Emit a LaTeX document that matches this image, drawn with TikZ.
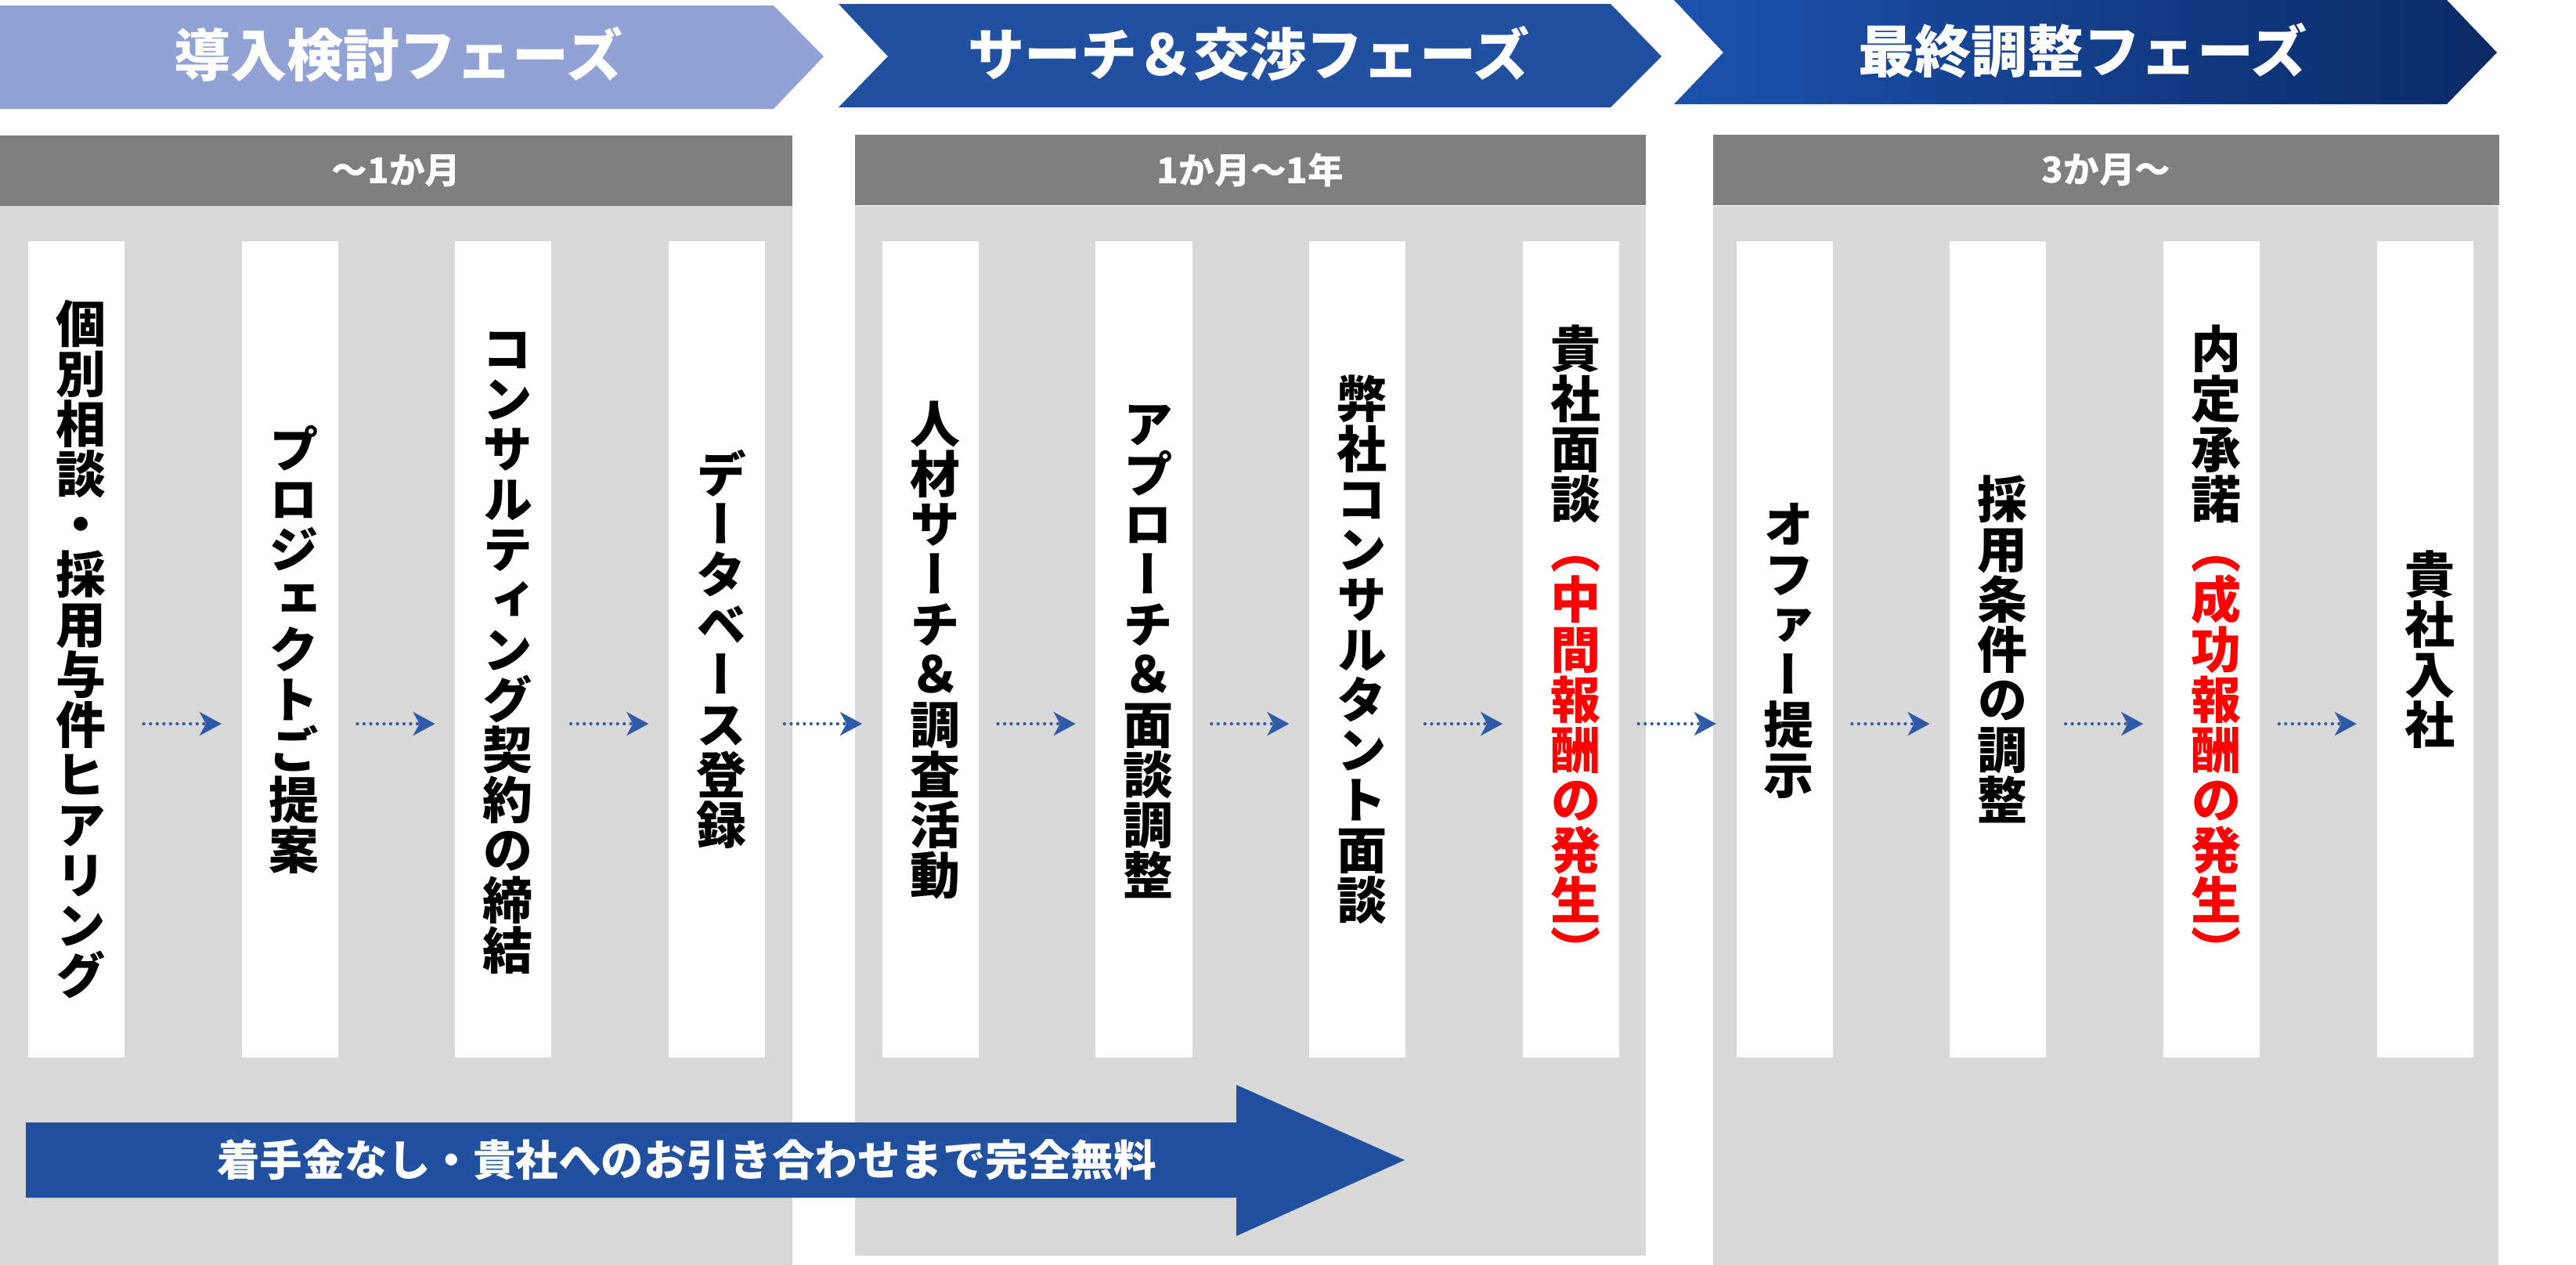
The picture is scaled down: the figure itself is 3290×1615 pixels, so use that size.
\documentclass[tikz,border=0pt]{standalone}
\usepackage{fontspec}
\usepackage{graphicx}
\usepackage{tikz}
\usetikzlibrary{arrows.meta}

\newfontfamily\jpfont{Noto Sans CJK JP}
\newfontfamily\tatefont{Noto Sans CJK JP}[RawFeature={vertical;+vert}]

\definecolor{phaseA}{HTML}{91A2D5}
\definecolor{phaseB}{HTML}{2150A0}
\definecolor{phaseCl}{HTML}{1C52AD}
\definecolor{phaseCr}{HTML}{0A2A66}
\definecolor{panelgrey}{HTML}{D9D9D9}
\definecolor{bargrey}{HTML}{7F7F7F}
\definecolor{flowblue}{HTML}{2F5AA8}

\tikzset{
  phasetitle/.style={text=white, inner sep=0pt, font=\jpfont\bfseries\fontsize{20.5}{20.5}\selectfont},
  periodbar/.style={fill=bargrey, text=white, inner sep=0pt, minimum height=0.9cm, font=\jpfont\bfseries\fontsize{13}{13}\selectfont},
  stepbox/.style={fill=white, inner sep=0pt, minimum width=1.23cm, minimum height=10.42cm, font=\tatefont\bfseries\fontsize{18.2}{18.2}\selectfont},
  flowarrow/.style={flowblue, line width=0.042cm, line cap=round, dash pattern=on 0pt off 0.085cm,
    -{Stealth[length=0.28cm, width=0.3cm, inset=0.08cm]}, shorten <=0.24cm, shorten >=0.25cm},
  freetext/.style={text=white, inner sep=0pt, font=\jpfont\bfseries\fontsize{15.5}{15.5}\selectfont}
}
\newcommand{\tate}[1]{\hspace*{0.6cm}\rotatebox{-90}{#1}}

\begin{document}
\begin{tikzpicture}[x=0.01cm, y=-0.01cm]
  \useasboundingbox (0,0) rectangle (3290,1615);
  % phase arrows
  \fill[phaseA] (0,7) -- (988,7) -- (1052,72) -- (988,139) -- (0,139) -- cycle;
  \node[phasetitle] (ph1) at (509,70) {導入検討フェーズ};
  \fill[phaseB] (1071,5) -- (2057,5) -- (2122,72) -- (2057,137) -- (1071,137) -- (1134,72) -- cycle;
  \node[phasetitle] (ph2) at (1595,68) {サーチ＆交渉フェーズ};
  \shade[left color=phaseCl, right color=phaseCr] (2138,0) -- (3125,0) -- (3189,67) -- (3125,133) -- (2138,133) -- (2201,67) -- cycle;
  \node[phasetitle] (ph3) at (2660,65) {最終調整フェーズ};
  % panels
  \fill[panelgrey] (0,263) rectangle (1012,1615);
  \fill[panelgrey] (1092,263) rectangle (2102,1603);
  \fill[panelgrey] (2188,263) rectangle (3191,1615);
  % periods
  \node[periodbar, minimum width=10.12cm] (t1) at (506,218) {～1か月};
  \node[periodbar, minimum width=10.10cm] (t2) at (1597,217) {1か月～1年};
  \node[periodbar, minimum width=10.03cm] (t3) at (2690,217) {3か月～};
  % steps
  \node[stepbox] (s1) at (97.5,829) {\tate{個別相談・採用与件ヒアリング}};
  \node[stepbox] (s2) at (370.2,829) {\tate{プロジェクトご提案}};
  \node[stepbox] (s3) at (642.9,829) {\tate{コンサルティング契約の締結}};
  \node[stepbox] (s4) at (915.6,829) {\tate{データベース登録}};
  \node[stepbox] (s5) at (1188.3,829) {\tate{人材サーチ＆調査活動}};
  \node[stepbox] (s6) at (1461,829) {\tate{アプローチ＆面談調整}};
  \node[stepbox] (s7) at (1733.7,829) {\tate{弊社コンサルタント面談}};
  \node[stepbox] (s8) at (2006.4,829) {\tate{貴社面談\textcolor{red}{（中間報酬の発生）}}};
  \node[stepbox] (s9) at (2279.1,829) {\tate{オファー提示}};
  \node[stepbox] (s10) at (2551.8,829) {\tate{採用条件の調整}};
  \node[stepbox] (s11) at (2824.5,829) {\tate{内定承諾\textcolor{red}{（成功報酬の発生）}}};
  \node[stepbox] (s12) at (3097.2,829) {\tate{貴社入社}};
  % flow
  \foreach \a/\b in {s1/s2, s2/s3, s3/s4, s4/s5, s5/s6, s6/s7, s7/s8, s8/s9, s9/s10, s10/s11, s11/s12}
    \draw[flowarrow] ([yshift=-0.95cm]\a.east) -- ([yshift=-0.95cm]\b.west);
  % free of charge
  \fill[phaseB] (33,1433) -- (1579,1433) -- (1579,1385) -- (1794,1481) -- (1579,1578) -- (1579,1529) -- (33,1529) -- cycle;
  \node[freetext] (free) at (877,1481) {着手金なし・貴社へのお引き合わせまで完全無料};
\end{tikzpicture}
\end{document}
